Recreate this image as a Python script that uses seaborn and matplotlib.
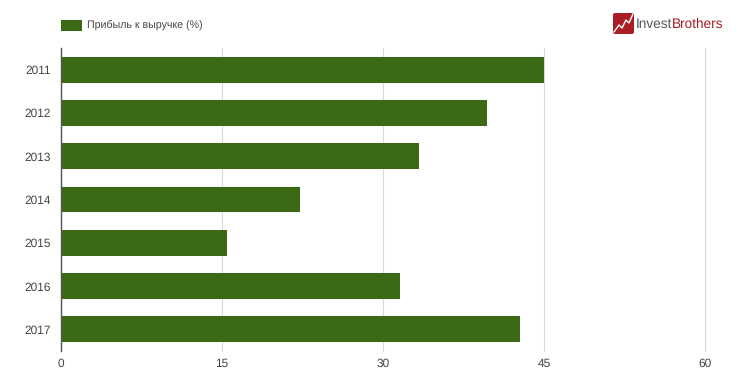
import matplotlib
matplotlib.use("Agg")
import matplotlib.pyplot as plt
from matplotlib.patches import FancyBboxPatch, Rectangle
from matplotlib.lines import Line2D
import pandas as pd
import seaborn as sns

YEARS = ["2011", "2012", "2013", "2014", "2015", "2016", "2017"]
MARGIN = [45.0, 39.7, 33.4, 22.3, 15.5, 31.6, 42.8]
XTICKS = [0, 15, 30, 45, 60]
SERIES_NAME = "Прибыль к выручке (%)"

BAR_COLOR = "#3c6a14"
TEXT_COLOR = "#444444"
GRID_COLOR = "#d9d9d9"
LOGO_RED = "#a81e24"
W, H = 747, 387

sns.set_theme(style="white")
plt.rcParams["font.family"] = ["Liberation Sans", "DejaVu Sans"]
plt.rcParams["text.hinting"] = "no_hinting"

fig = plt.figure(figsize=(W / 100, H / 100), dpi=100)
ax = fig.add_axes([61 / W, 1 - 351 / H, (705 - 61) / W, (351 - 48) / H])

df = pd.DataFrame({"year": YEARS, "margin": MARGIN})
sns.barplot(data=df, x="margin", y="year", color=BAR_COLOR, saturation=1,
            width=0.6, linewidth=0, ax=ax, zorder=3)

ax.set_xlim(0, 60)
ax.set_ylim(len(YEARS) - 0.5, -0.5)
ax.set_xticks(XTICKS)
ax.set_xlabel("")
ax.set_ylabel("")
ax.grid(axis="x", color=GRID_COLOR, linewidth=0.8, zorder=0)
for line in ax.get_xgridlines():
    line.set_clip_on(False)  # keep the last gridline at the axes edge whole
ax.tick_params(axis="both", length=0, labelsize=8.6, labelcolor=TEXT_COLOR)
ax.tick_params(axis="y", pad=7.5)
ax.tick_params(axis="x", pad=5)
sns.despine(ax=ax, top=True, right=True, bottom=True)
ax.spines["left"].set_color("#555555")
ax.spines["left"].set_linewidth(1)
ax.spines["left"].set_zorder(5)

# legend swatch and label, placed in pixels
fig.add_artist(Rectangle((61 / W, 1 - 31 / H), 21 / W, 11 / H,
                         transform=fig.transFigure, color=BAR_COLOR, lw=0))
fig.text(87 / W, 1 - 24.5 / H, SERIES_NAME, fontsize=7.7, color=TEXT_COLOR,
         ha="left", va="center")

# logo
fig.add_artist(FancyBboxPatch((613 / W, 1 - 34 / H), 21 / W, 21 / H,
                              boxstyle="round,pad=0,rounding_size=0.004",
                              transform=fig.transFigure,
                              facecolor=LOGO_RED, edgecolor="none"))
fig.add_artist(Line2D([614 / W, 619 / W, 622 / W, 626 / W, 629 / W, 633 / W],
                      [1 - 32 / H, 1 - 25 / H, 1 - 28 / H, 1 - 20 / H, 1 - 23 / H, 1 - 14 / H],
                      transform=fig.transFigure, color="white", lw=1))
logo_a = fig.text(636 / W, 1 - 24 / H, "Invest", fontsize=9.8, color="#555555",
                  ha="left", va="center")
fig.canvas.draw()
box = logo_a.get_window_extent()
fig.text(box.x1 / W, 1 - 24 / H, "Brothers", fontsize=9.8, color=LOGO_RED,
         ha="left", va="center")

fig.savefig("out.png", dpi=100)
